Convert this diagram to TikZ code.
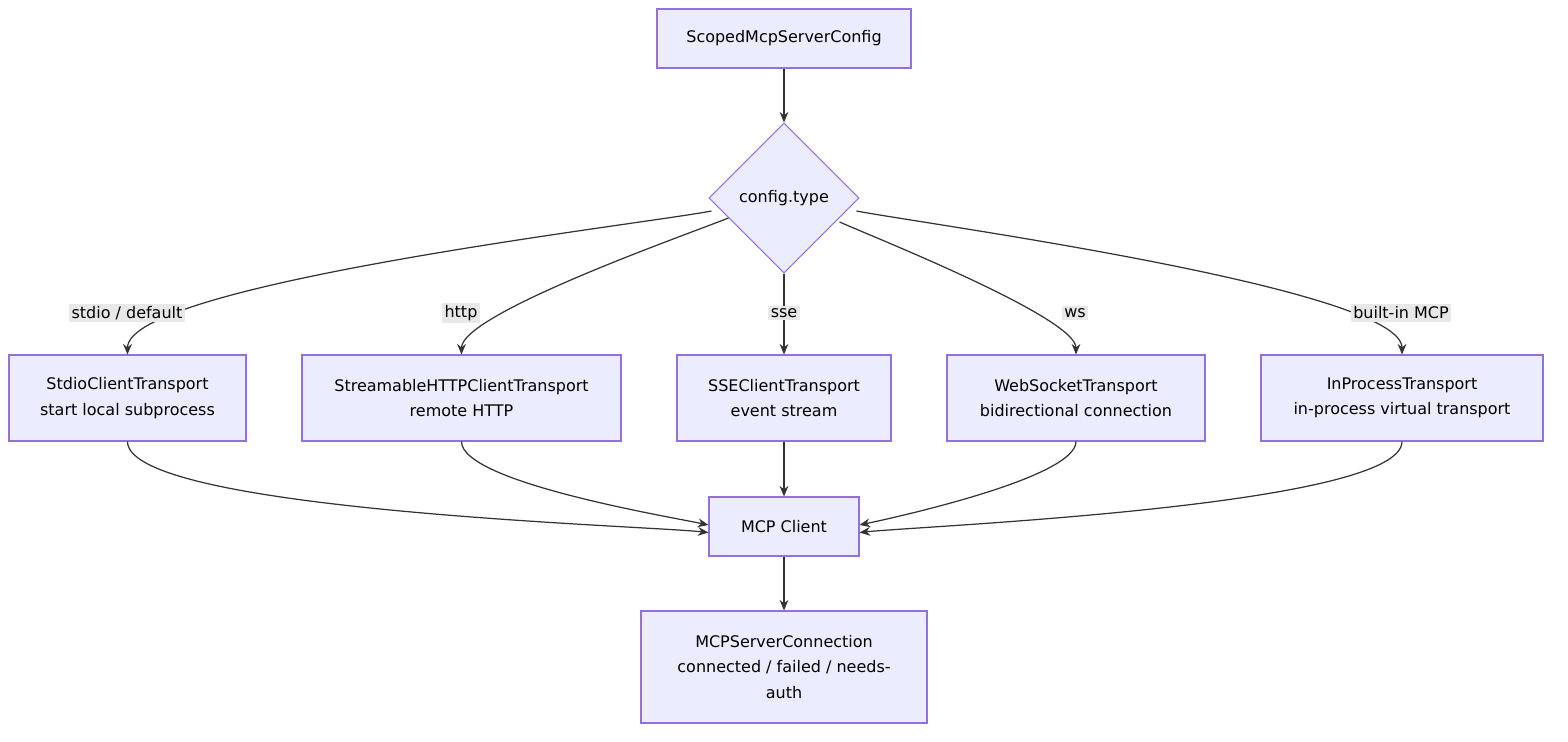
\documentclass[tikz,border=0pt]{standalone}
\usepackage{fontspec}
\setmainfont{DejaVu Sans}
\usetikzlibrary{shapes.geometric,arrows.meta}
\definecolor{boxfill}{HTML}{ECECFF}
\definecolor{boxline}{HTML}{9370DB}
\definecolor{edge}{HTML}{333333}
\definecolor{lblbg}{HTML}{E8E8E8}
\begin{document}
\begin{tikzpicture}[x=0.02cm,y=-0.02cm,
  every node/.style={font=\fontsize{9.1}{14.5}\selectfont, text=black},
  box/.style={draw=boxline, fill=boxfill, line width=0.6pt, align=center, inner sep=0pt},
  lbl/.style={fill=lblbg, inner sep=1.5pt},
  link/.style={draw=edge, line width=0.7pt, -{Stealth[length=6pt,width=5pt]}}]

\useasboundingbox (0,0) rectangle (1568,742);

\node[box, minimum width=254*0.02cm, minimum height=59*0.02cm] (cfg) at (784,38.5) {ScopedMcpServerConfig};
\node[box, diamond, minimum width=150*0.02cm, minimum height=150*0.02cm] (type) at (784,198) {config.type};

\node[box, minimum width=237*0.02cm, minimum height=86*0.02cm] (stdio) at (127.5,398) {StdioClientTransport\\start local subprocess};
\node[box, minimum width=319*0.02cm, minimum height=86*0.02cm] (http) at (461.5,398) {StreamableHTTPClientTransport\\remote HTTP};
\node[box, minimum width=214*0.02cm, minimum height=86*0.02cm] (sse) at (784,398) {SSEClientTransport\\event stream};
\node[box, minimum width=258*0.02cm, minimum height=86*0.02cm] (ws) at (1076,398) {WebSocketTransport\\bidirectional connection};
\node[box, minimum width=282*0.02cm, minimum height=86*0.02cm] (inproc) at (1402,398) {InProcessTransport\\in-process virtual transport};

\node[box, minimum width=150*0.02cm, minimum height=59*0.02cm] (client) at (784,526.5) {MCP Client};
\node[box, minimum width=286*0.02cm, minimum height=112*0.02cm] (conn) at (784,667) {MCPServerConnection\\connected / failed / needs-\\auth};

% top
\draw[link] (cfg) -- (type);

% branches
\draw[link] (type.west) ++(3,13) to[out=191,in=90,looseness=0.3] (stdio.north);
\draw[link] (type.west) ++(20,20) to[out=202,in=90,looseness=0.35] (http.north);
\draw[link] (type.south) -- (sse.north);
\draw[link] (type.east) ++(-20,24) to[out=-24,in=90,looseness=0.35] (ws.north);
\draw[link] (type.east) ++(-3,13) to[out=-11,in=90,looseness=0.3] (inproc.north);

\node[lbl] (l1) at (127,313) {stdio / default};
\node[lbl] (l2) at (461,313) {http};
\node[lbl] (l3) at (784,313) {sse};
\node[lbl] (l4) at (1075,313) {ws};
\node[lbl] (l5) at (1401,313) {built-in MCP};

% merge
\draw[link] (stdio.south) to[out=-90,in=174,looseness=0.3] ([yshift=-0.12cm]client.west);
\draw[link] (http.south) to[out=-90,in=168,looseness=0.4] ([yshift=0.03cm]client.west);
\draw[link] (sse.south) -- (client.north);
\draw[link] (ws.south) to[out=-90,in=12,looseness=0.4] ([yshift=0.03cm]client.east);
\draw[link] (inproc.south) to[out=-90,in=6,looseness=0.3] ([yshift=-0.12cm]client.east);

\draw[link] (client) -- (conn);
\end{tikzpicture}
\end{document}
